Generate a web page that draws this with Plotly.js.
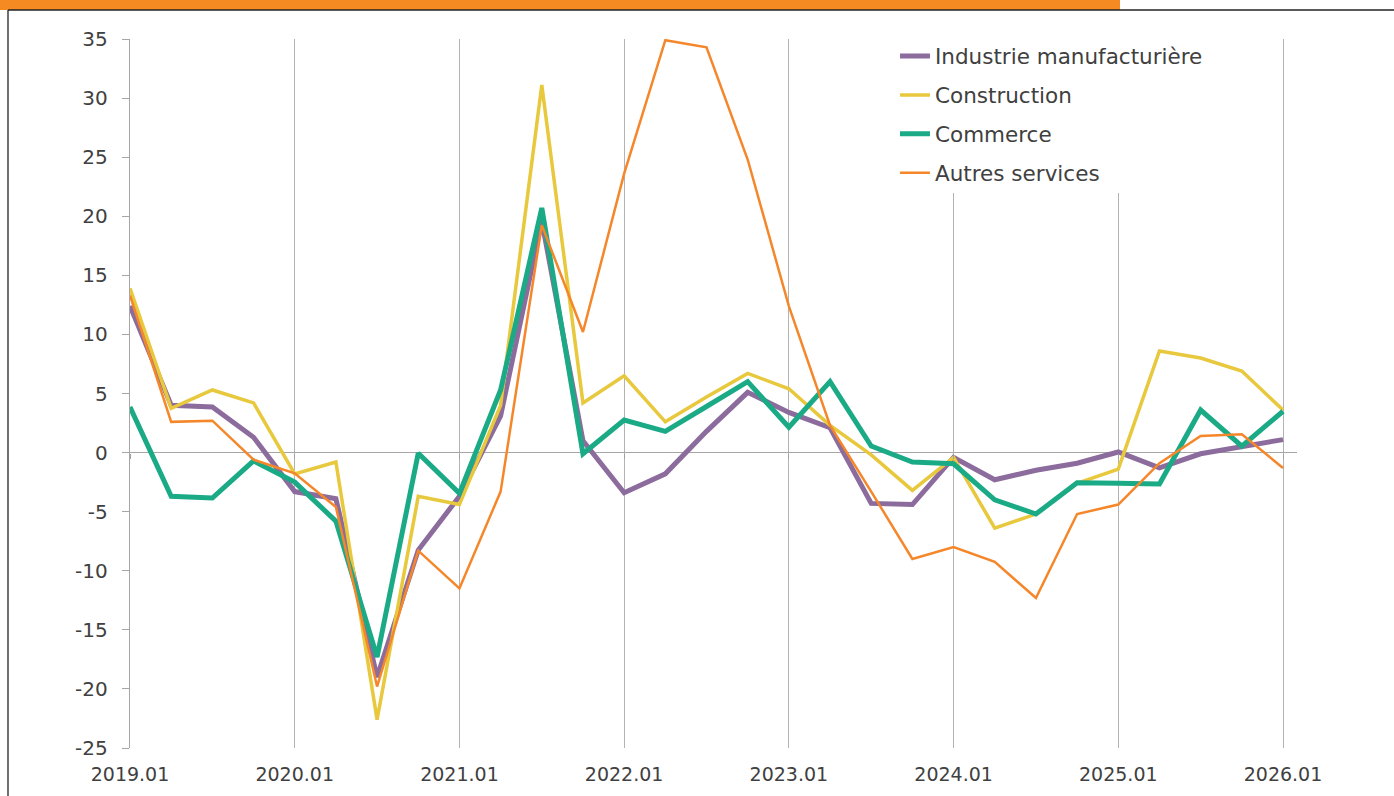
<!DOCTYPE html>
<html>
<head>
<meta charset="utf-8">
<script src="https://cdn.plot.ly/plotly-3.0.1.min.js"></script>
<style>html,body{margin:0;padding:0;background:#fff;}#chart{width:1394px;height:796px;}</style>
</head>
<body>
<div id="chart"></div>
<script>
// Quarterly periods 2019.01 ... 2026.01
const quarters = ["2019.01","2019.02","2019.03","2019.04","2020.01","2020.02","2020.03","2020.04",
  "2021.01","2021.02","2021.03","2021.04","2022.01","2022.02","2022.03","2022.04",
  "2023.01","2023.02","2023.03","2023.04","2024.01","2024.02","2024.03","2024.04",
  "2025.01","2025.02","2025.03","2025.04","2026.01"];
const yearTickLabels = ["2019.01","2020.01","2021.01","2022.01","2023.01","2024.01","2025.01","2026.01"];
const yTickVals = [-25,-20,-15,-10,-5,0,5,10,15,20,25,30,35];
const yTickLabels = ["-25","-20","-15","-10","-5","0","5","10","15","20","25","30","35"];
const seriesNames = ["Industrie manufacturière","Construction","Commerce","Autres services"];

const industrie = [12.4,4.0,3.85,1.3,-3.3,-3.9,-19.0,-8.25,-3.7,3.1,19.6,1.0,-3.4,-1.8,1.8,5.1,
  3.4,2.1,-4.3,-4.4,-0.4,-2.3,-1.5,-0.9,0.05,-1.3,-0.1,0.5,1.1];
const construction = [13.9,3.75,5.3,4.2,-1.8,-0.8,-22.6,-3.7,-4.4,4.0,31.1,4.2,6.5,2.6,4.7,6.7,
  5.4,2.3,-0.2,-3.2,-0.4,-6.4,-5.2,-2.6,-1.4,8.6,8.0,6.9,3.6];
const commerce = [3.85,-3.7,-3.85,-0.7,-2.5,-5.8,-17.3,-0.05,-3.45,5.3,20.7,-0.1,2.75,1.8,3.9,6.0,
  2.15,6.0,0.55,-0.8,-0.95,-4.0,-5.2,-2.55,-2.6,-2.65,3.6,0.55,3.5];
const autres = [13.3,2.6,2.7,-0.6,-1.75,-4.6,-19.8,-8.3,-11.5,-3.3,19.25,10.2,23.6,34.9,34.3,24.8,
  12.4,2.3,-3.3,-9.0,-8.0,-9.25,-12.3,-5.2,-4.4,-0.9,1.4,1.55,-1.3];

const idx = quarters.map((q,i)=>i);
const yearIdx = quarters.map((q,i)=>i).filter(i=>quarters[i].endsWith(".01"));

const colors = ["#8C6B9D","#E8C83C","#1BAA86","#F5872A"];
const widths = [5,3.5,5,2.5];
const data = [industrie,construction,commerce,autres].map((ys,k)=>({
  type:"scatter", mode:"lines", x:idx, y:ys, name:seriesNames[k],
  line:{color:colors[k], width:widths[k]}, legendgroup:"g"+k,
  hovertext:quarters, xaxis:"x", yaxis:"y"
}));

const font = {family:"DejaVu Sans, sans-serif", size:19, color:"#404040"};
const xr = [0, 28.34];

const layout = {
  width:1394, height:796,
  margin:{l:130, r:97, t:39, b:48},
  paper_bgcolor:"#fff", plot_bgcolor:"#fff",
  font:font,
  showlegend:true,
  legend:{x:0.6555, y:1.005, xanchor:"left", yanchor:"top", bgcolor:"#fff",
    font:{family:"DejaVu Sans, sans-serif", size:21.5, color:"#404040"},
    tracegroupgap:8, itemwidth:30},
  xaxis:{range:xr, tickmode:"array", tickvals:yearIdx, ticktext:yearTickLabels,
    showgrid:true, gridcolor:"#b3b3b3", gridwidth:1, zeroline:false, showline:false,
    ticks:"", ticklabelstandoff:13, fixedrange:true},
  xaxis2:{range:xr, overlaying:"x", anchor:"free", position:25/60, side:"bottom",
    tickmode:"array", tickvals:yearIdx, ticks:"outside", ticklen:5, tickcolor:"#a0a0a0",
    showticklabels:false, showgrid:false, zeroline:false, showline:false},
  yaxis:{range:[-25,35], tickmode:"array", tickvals:yTickVals, ticktext:yTickLabels,
    tickfont:{family:"DejaVu Sans, sans-serif", size:20, color:"#404040"},
    showgrid:false, zeroline:true,
    zerolinecolor:"#a6a6a6", zerolinewidth:1.3, showline:true, linecolor:"#a6a6a6", linewidth:1.3,
    ticks:"outside", ticklen:7, tickcolor:"#a6a6a6", ticklabelstandoff:10, fixedrange:true},
  shapes:[
    {type:"rect", xref:"paper", yref:"paper", x0:-130/1167, x1:(1120-130)/1167,
     y0:(748-10)/709, y1:(748+1)/709, fillcolor:"#F58A22", line:{width:0}, layer:"above"},
    {type:"line", xref:"paper", yref:"paper", x0:(8-130)/1167, x1:(1394-130)/1167,
     y0:(748-10)/709, y1:(748-10)/709, line:{color:"#222", width:1.3}},
    {type:"line", xref:"paper", yref:"paper", x0:(8-130)/1167, x1:(8-130)/1167,
     y0:(748-10)/709, y1:-50/709, line:{color:"#222", width:1.3}}
  ]
};

// invisible trace to activate the tick marks on the zero line
data.push({type:"scatter", mode:"none", x:[0], y:[0], xaxis:"x2", yaxis:"y", showlegend:false, hoverinfo:"skip"});

Plotly.newPlot("chart", data, layout, {displayModeBar:false, staticPlot:true});
</script>
</body>
</html>
